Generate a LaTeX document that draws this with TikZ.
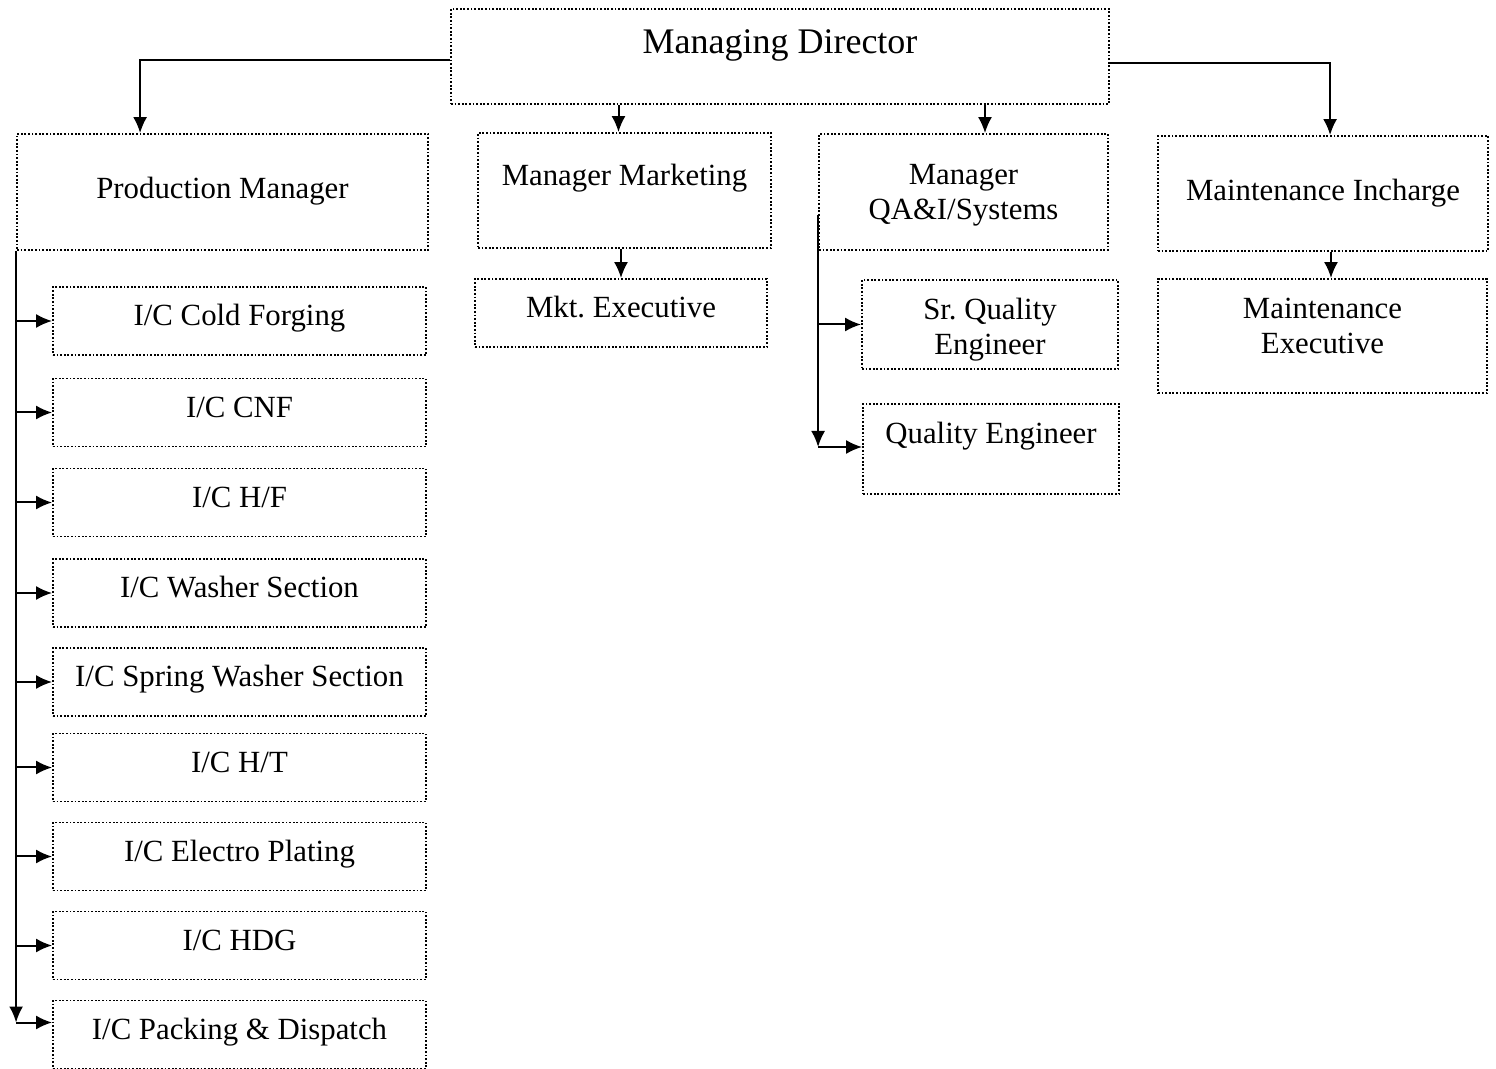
\documentclass[tikz,border=0pt]{standalone}
\usepackage{fontspec}
\setmainfont{Liberation Serif}
\usetikzlibrary{arrows.meta}
\tikzset{>={Latex[length=8pt,width=7pt]}}
\frenchspacing

\begin{document}
\begin{tikzpicture}[x=0.5pt, y=-0.5pt, line width=1pt,
    box/.style={draw, line width=.9pt, dash pattern=on .9pt off .9pt, inner sep=0pt, align=center, font=\fontsize{15.4}{17.5}\selectfont},
    lift/.style={text height=10pt, text depth=#1},
    lift2/.style 2 args={text height=#1, text depth=#2},
    icbox/.style={box, lift=5pt, minimum width=186.5pt, minimum height=34pt}]
    \useasboundingbox (0,0) rectangle (1496,1069);
    % top and second level
    \node[box, lift=15pt, text height=12pt, font=\fontsize{18}{21}\selectfont, minimum width=329pt, minimum height=47.5pt](md)at(780, 56.5){Managing Director};
    \node[box, lift=3pt, minimum width=205.5pt, minimum height=58pt](pm)at(222.5, 192){Production Manager};
    \node[box, lift=14.5pt, minimum width=146.5pt, minimum height=57.5pt](mm)at(624.5, 190.5){Manager Marketing};
    \node[box, lift2={28pt}{0pt}, minimum width=144.5pt, minimum height=58pt](qa)at(963.5, 192){Manager\\QA\&I/Systems};
    \node[box, lift=2.5pt, minimum width=165pt, minimum height=57.5pt](mi)at(1323, 193.5){Maintenance Incharge};
    \node[box, lift=5pt, minimum width=146pt, minimum height=34pt](mkt)at(621, 313){Mkt. Executive};
    \node[box, lift2={30.5pt}{0pt}, minimum width=128pt, minimum height=44.5pt](sqe)at(990, 324.5){Sr. Quality\\Engineer};
    \node[box, lift=15pt, minimum width=128pt, minimum height=45pt](qe)at(991, 449){Quality Engineer};
    \node[box, lift2={28pt}{10pt}, minimum width=164.5pt, minimum height=57pt](me)at(1322.5, 336){Maintenance\\Executive};
    % production sections
    \foreach \i/\y/\txt in {1/321/{I/C Cold Forging}, 2/412.5/{I/C CNF}, 3/502.5/{I/C H/F}, 4/593/{I/C Washer Section}, 5/682/{I/C Spring Washer Section}, 6/767.5/{I/C H/T}, 7/856.5/{I/C Electro Plating}, 8/945.5/{I/C HDG}, 9/1034.5/{I/C Packing \& Dispatch}}
        \node[icbox](ic\i)at(239.5, \y){\txt};
    % connectors
    \coordinate(mm-in)at([xshift=-3pt]mm.north);
    \coordinate(qa-in)at([xshift=10.75pt]qa.north);
    \coordinate(me-in)at([xshift=4.25pt]me.north);
    \draw[->]([yshift=-1.75pt]md.west) -| ([xshift=62pt]pm.north west);
    \draw[->]([yshift=-3.25pt]md.east) -| ([xshift=86.5pt]mi.north west);
    \draw[->](md.south -| mm-in)--(mm-in);
    \draw[->](md.south -| qa-in)--(qa-in);
    \draw[->](mm.south -| mkt.north)--(mkt.north);
    \draw[->](mi.south -| me-in)--(me-in);
    \coordinate(pk-in)at([yshift=6pt]ic9.west);
    \draw[->](pm.south west)--(pm.south west |- pk-in);
    \draw[->](pm.south west |- pk-in)--(pk-in);
    \foreach \i in {1,...,8}
        \draw[->](pm.south west |- ic\i.west)--(ic\i.west);
    \coordinate(qe-in)at([yshift=1pt]qe.west);
    \draw[->]([yshift=-11.5pt]qa.west)--(qa.west |- qe-in);
    \draw[->](qa.west |- qe-in)--(qe-in);
    \draw[->](qa.west |- sqe.west)--(sqe.west);
\end{tikzpicture}
\end{document}
